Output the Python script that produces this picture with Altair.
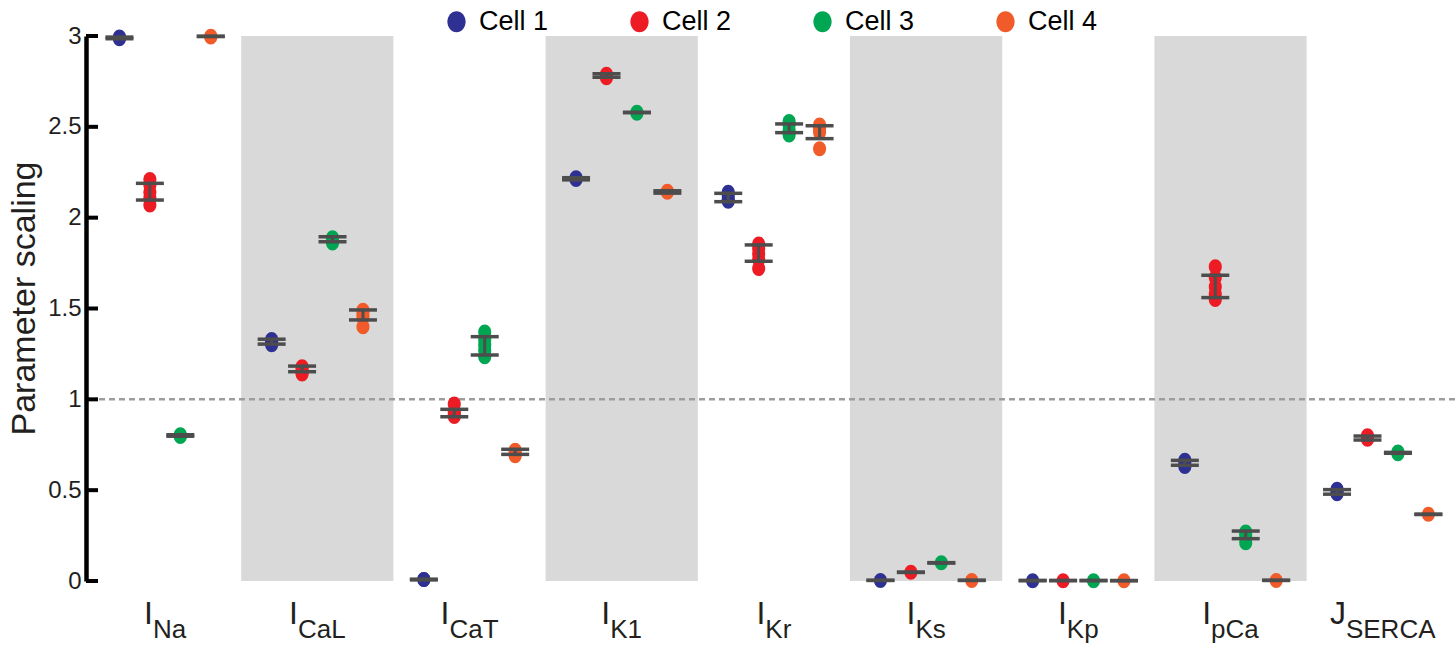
import altair as alt
import pandas as pd

# ---- categories -------------------------------------------------------------
currents = ["Na", "CaL", "CaT", "K1", "Kr", "Ks", "Kp", "pCa", "SERCA"]
prefixes = ["I", "I", "I", "I", "I", "I", "I", "I", "J"]
cells = ["Cell 1", "Cell 2", "Cell 3", "Cell 4"]
cell_colors = ["#2e3192", "#ed1c24", "#00a651", "#f15a29"]
shaded = ["CaL", "K1", "Ks", "pCa"]
y_ticks = [0, 0.5, 1, 1.5, 2, 2.5, 3]

# ---- repeated fits: one list of parameter scalings per cell ------------------
na_runs = [[2.99, 2.985, 2.995], [2.21, 2.18, 2.14, 2.11, 2.07], [0.805, 0.80, 0.795], [2.998, 2.995]]
cal_runs = [[1.33, 1.32, 1.31, 1.30], [1.18, 1.165, 1.15, 1.14], [1.89, 1.88, 1.87, 1.86], [1.49, 1.47, 1.45, 1.40]]
cat_runs = [[0.008, 0.008], [0.975, 0.93, 0.915, 0.905], [1.37, 1.33, 1.30, 1.27, 1.235], [0.72, 0.705, 0.69]]
k1_runs = [[2.22, 2.21], [2.79, 2.78, 2.77], [2.58, 2.575], [2.145, 2.14]]
kr_runs = [[2.14, 2.12, 2.10, 2.09], [1.855, 1.83, 1.80, 1.77, 1.72], [2.53, 2.51, 2.48, 2.455], [2.51, 2.49, 2.47, 2.38]]
ks_runs = [[0.003], [0.048], [0.10], [0.003]]
kp_runs = [[0.002], [0.002], [0.002], [0.002]]
pca_runs = [[0.665, 0.645, 0.63], [1.73, 1.67, 1.62, 1.58, 1.55], [0.27, 0.25, 0.21], [0.003]]
serca_runs = [[0.505, 0.49, 0.48], [0.80, 0.79, 0.78], [0.71, 0.70], [0.367]]

# ---- mean - SD / mean + SD per cell --------------------------------------------
na_sd = [(2.985, 2.994), (2.097, 2.189), (0.797, 0.805), (2.997, 2.999)]
cal_sd = [(1.304, 1.331), (1.152, 1.183), (1.868, 1.895), (1.437, 1.492)]
cat_sd = [(0.006, 0.010), (0.904, 0.945), (1.244, 1.345), (0.697, 0.725)]
k1_sd = [(2.208, 2.220), (2.773, 2.792), (2.578, 2.580), (2.135, 2.148)]
kr_sd = [(2.088, 2.134), (1.760, 1.850), (2.468, 2.516), (2.435, 2.506)]
ks_sd = [(0.003, 0.004), (0.047, 0.049), (0.099, 0.101), (0.003, 0.004)]
kp_sd = [(0.002, 0.003), (0.002, 0.003), (0.002, 0.003), (0.002, 0.003)]
pca_sd = [(0.637, 0.664), (1.560, 1.683), (0.233, 0.275), (0.003, 0.004)]
serca_sd = [(0.478, 0.503), (0.776, 0.798), (0.703, 0.708), (0.366, 0.368)]

all_runs = [na_runs, cal_runs, cat_runs, k1_runs, kr_runs, ks_runs, kp_runs, pca_runs, serca_runs]
all_sd = [na_sd, cal_sd, cat_sd, k1_sd, kr_sd, ks_sd, kp_sd, pca_sd, serca_sd]

# ---- layout ------------------------------------------------------------------
PLOT_W, PLOT_H = 1366, 545
X_END = 8.975                      # visible span in group units
GROUP_PX = PLOT_W / X_END
FONT = "Liberation Sans, Arial, Helvetica, sans-serif"
ELLIPSE = "M-0.87,0A0.87,1,0,1,0,0.87,0A0.87,1,0,1,0,-0.87,0Z"
BAR = "#4d4d4d"

x_scale = alt.Scale(domain=[0, X_END], nice=False, zero=False)
y_scale = alt.Scale(domain=[0, 3], nice=False, zero=False)
# one y axis definition shared by every layer so the layers merge cleanly
y_axis = alt.Axis(values=y_ticks, format="~g", title="Parameter scaling",
                  domain=True, domainColor="black", domainWidth=4.5,
                  ticks=False, tickSize=0, grid=False, offset=3,
                  labelFont=FONT, labelFontSize=24, labelColor="#231f20",
                  labelPadding=5, titleFont=FONT, titleFontSize=34,
                  titleFontWeight="normal", titleColor="#231f20",
                  titleX=-45, titleY=262)


def Y(field):
    return alt.Y(field, scale=y_scale, axis=y_axis)


def X(field):
    return alt.X(field, scale=x_scale, axis=None)


# ---- tables built from the lists -----------------------------------------------
pts, sds = [], []
for gi, (g_runs, g_sd) in enumerate(zip(all_runs, all_sd)):
    for ci, cell in enumerate(cells):
        xpos = gi + 0.2 * (ci + 1)
        for v in g_runs[ci]:
            pts.append({"current": currents[gi], "cell": cell, "x": xpos, "v": v})
        lo, hi = g_sd[ci]
        sds.append({"current": currents[gi], "cell": cell, "x": xpos, "lo": lo, "hi": hi})
pts = pd.DataFrame(pts)
sds = pd.DataFrame(sds)
caps = pd.concat([sds.assign(v=sds["lo"]), sds.assign(v=sds["hi"])])

bands = pd.DataFrame({"x0": [currents.index(s) for s in shaded]})
bands["x1"] = bands["x0"] + 1
bands["y0"] = 0
bands["y1"] = 3

# approximate Arial advance widths (em) for centring the two-part labels
adv = {"N": .722, "a": .556, "C": .722, "L": .556, "T": .611, "K": .667, "1": .556,
       "r": .333, "s": .5, "p": .556, "S": .667, "E": .667, "R": .722, "A": .667,
       "I": .278, "J": .5}
MAIN_FS, SUB_FS = 32, 26
lab = []
for gi, (pre, sub) in enumerate(zip(prefixes, currents)):
    wm = adv[pre] * MAIN_FS
    ws = sum(adv[c] for c in sub) * SUB_FS
    left = gi + 0.5 - (wm + ws) / 2 / GROUP_PX
    lab.append({"pre": pre, "sub": sub, "xm": left, "xs": left + wm / GROUP_PX, "y": 0})
lab = pd.DataFrame(lab)

# ---- layers ----------------------------------------------------------------------
tick_layer = alt.Chart(pd.DataFrame({"v": y_ticks})).mark_rule(
    color="black", strokeWidth=4
).encode(y=Y("v:Q"), x=alt.value(-3), x2=alt.value(9))

band_layer = alt.Chart(bands).mark_rect(color="#d9d9d9").encode(
    x=X("x0:Q"), x2="x1:Q", y=Y("y0:Q"), y2="y1:Q"
)

ref_line = alt.Chart(pd.DataFrame({"v": [1]})).mark_rule(
    color="#9d9d9d", strokeWidth=2.5, strokeDash=[6, 4]
).encode(y=Y("v:Q"), x=alt.value(0), x2=alt.value(PLOT_W))

point_layer = alt.Chart(pts).mark_point(
    filled=True, opacity=1, size=225, shape=ELLIPSE, strokeWidth=0
).encode(
    x=X("x:Q"),
    y=Y("v:Q"),
    color=alt.Color("cell:N", scale=alt.Scale(domain=cells, range=cell_colors),
                    legend=alt.Legend(title=None, orient="none", legendX=354, legendY=-28,
                                      direction="horizontal", symbolType=ELLIPSE,
                                      symbolSize=441, symbolStrokeWidth=0, symbolOpacity=1,
                                      labelFont=FONT, labelFontSize=27, labelColor="black",
                                      labelOffset=9, columnPadding=77, padding=0)),
)

stem_layer = alt.Chart(sds).mark_rule(color=BAR, strokeWidth=3).encode(
    x=X("x:Q"), y=Y("lo:Q"), y2="hi:Q"
)

cap_layer = alt.Chart(caps).mark_tick(
    color=BAR, orient="horizontal", size=28, thickness=3.5, opacity=1
).encode(x=X("x:Q"), y=Y("v:Q"))

main_text = alt.Chart(lab).mark_text(
    align="left", baseline="alphabetic", font=FONT, fontSize=MAIN_FS, color="#231f20", dy=43
).encode(x=X("xm:Q"), y=Y("y:Q"), text="pre:N")

sub_text = alt.Chart(lab).mark_text(
    align="left", baseline="alphabetic", font=FONT, fontSize=SUB_FS, color="#231f20", dy=57
).encode(x=X("xs:Q"), y=Y("y:Q"), text="sub:N")

chart = alt.layer(
    band_layer, ref_line, tick_layer, point_layer, stem_layer, cap_layer, main_text, sub_text
).properties(
    width=PLOT_W, height=PLOT_H,
    padding={"left": 89, "top": 36, "right": 0, "bottom": 65},
    autosize=alt.AutoSizeParams(type="none"),
).configure_view(stroke=None)

chart.save("out.html", embed_options={"renderer": "svg", "actions": False})
